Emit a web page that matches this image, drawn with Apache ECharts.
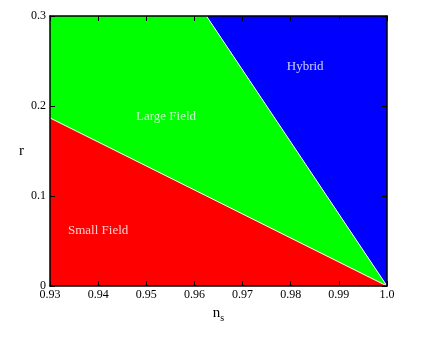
<!DOCTYPE html>
<html>
<head>
<meta charset="utf-8">
<script src="https://cdn.jsdelivr.net/npm/echarts@6/dist/echarts.min.js"></script>
<style>
  html, body { margin: 0; padding: 0; background: #fff; }
  #chart { width: 436px; height: 337px; }
</style>
</head>
<body>
<div id="chart"></div>
<script>
// axis ranges / ticks
var nsMin = 0.93, nsMax = 1.0, nsStep = 0.01;
var rMin = 0, rMax = 0.3, rStep = 0.1;

// region boundaries (ns, r)
var hybridNs = [0.9625, 1.0];
var hybridR = [0.3, 0];
var smallNs = [0.93, 1.0];
var smallR = [0.1867, 0];

// region labels
var regionNames = ['Hybrid', 'Large Field', 'Small Field'];
var regionNs = [0.983, 0.9541, 0.940];
var regionR = [0.2433, 0.1878, 0.0611];

var FONT = '"Liberation Serif", "DejaVu Serif", serif';

function pairs(xs, ys) {
  var out = [];
  for (var i = 0; i < xs.length; i++) out.push([xs[i], ys[i]]);
  return out;
}

var blueData = [[nsMin, rMax], [nsMax, rMax]];
var greenData = [[nsMin, rMax]].concat(pairs(hybridNs, hybridR));
var redData = pairs(smallNs, smallR);
var labelData = [];
for (var i = 0; i < regionNames.length; i++) {
  labelData.push({ value: [regionNs[i], regionR[i]], name: regionNames[i] });
}

function xLabel(v) { return Math.abs(v - 1) < 1e-9 ? '1.0' : v.toFixed(2); }
function yLabel(v) { return Math.abs(v) < 1e-9 ? '0' : v.toFixed(1); }

var axisLine = { show: true, onZero: false, lineStyle: { color: '#000', width: 1.5 } };
var axisTick = { show: true, inside: true, length: 5, lineStyle: { color: '#000' } };

var myChart = echarts.init(document.getElementById('chart'));
myChart.setOption({
  animation: false,
  grid: { left: 50, right: 49, top: 16, bottom: 51 },
  xAxis: [{
    type: 'value', min: nsMin, max: nsMax, interval: nsStep, z: 10,
    name: 'n{s|s}', nameLocation: 'middle', nameGap: 17,
    nameTextStyle: { fontFamily: FONT, fontSize: 15, color: '#000',
      rich: { s: { fontFamily: FONT, fontSize: 10, padding: [10, 0, 0, 0], color: '#000' } } },
    axisLine: axisLine, axisTick: axisTick, splitLine: { show: false },
    axisLabel: { formatter: xLabel, fontFamily: FONT, fontSize: 12, color: '#000', margin: 3 }
  }, {
    type: 'value', min: nsMin, max: nsMax, interval: nsStep, position: 'top', z: 10,
    axisLine: axisLine, axisTick: axisTick, splitLine: { show: false },
    axisLabel: { show: false }
  }],
  yAxis: [{
    type: 'value', min: rMin, max: rMax, interval: rStep, z: 10,
    name: 'r', nameLocation: 'middle', nameGap: 26, nameRotate: 0,
    nameTextStyle: { fontFamily: FONT, fontSize: 15, color: '#000' },
    axisLine: axisLine, axisTick: axisTick, splitLine: { show: false },
    axisLabel: { formatter: yLabel, fontFamily: FONT, fontSize: 12, color: '#000', margin: 4 }
  }, {
    type: 'value', min: rMin, max: rMax, interval: rStep, position: 'right', z: 10,
    axisLine: axisLine, axisTick: axisTick, splitLine: { show: false },
    axisLabel: { show: false }
  }],
  series: [{
    type: 'line', data: blueData, symbol: 'none', z: 1,
    lineStyle: { width: 0 }, areaStyle: { color: '#0000ff', opacity: 1 }
  }, {
    type: 'line', data: greenData, symbol: 'none', z: 2,
    lineStyle: { width: 0 }, areaStyle: { color: '#00ff00', opacity: 1 }
  }, {
    type: 'line', data: redData, symbol: 'none', z: 3,
    lineStyle: { width: 0 }, areaStyle: { color: '#ff0000', opacity: 1 }
  }, {
    type: 'line', data: pairs(hybridNs, hybridR), symbol: 'none', z: 4,
    lineStyle: { color: '#fff', width: 1 }
  }, {
    type: 'line', data: redData, symbol: 'none', z: 4,
    lineStyle: { color: '#fff', width: 1 }
  }, {
    type: 'scatter', data: labelData, symbolSize: 0, z: 5,
    label: { show: true, position: 'inside', formatter: '{b}',
      fontFamily: FONT, fontSize: 13, color: '#fff' }
  }]
});
</script>
</body>
</html>
